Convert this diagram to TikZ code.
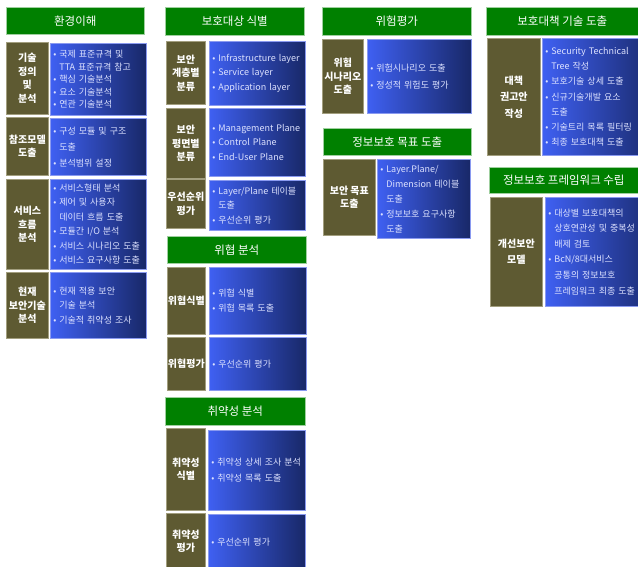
\documentclass[tikz,border=0pt]{standalone}
\usepackage{fontspec}
\setmainfont{Noto Sans CJK KR}
\usepackage{tikz}
\usepackage{xcolor}
\definecolor{hdrgreen}{HTML}{008000}
\definecolor{hdrline}{HTML}{9FCF9F}
\definecolor{lblolive}{HTML}{5E5A32}
\definecolor{lblline}{HTML}{A29E7E}
\definecolor{bluleft}{HTML}{3F60F2}
\definecolor{bluright}{HTML}{182868}
\definecolor{bluline}{HTML}{8A9AF0}
\definecolor{blutext}{HTML}{DDE2FF}
\newcommand{\bu}{\textbullet\ }
\newcommand{\ind}{\hphantom{\textbullet\ }}

\begin{document}
\begin{tikzpicture}[x=1pt,y=-1pt,
  hdr/.style={draw=hdrline,line width=0.6pt,fill=hdrgreen,anchor=north west,inner sep=0pt,text=white,font=\fontsize{11.5}{13}\selectfont},
  lbl/.style={draw=lblline,line width=0.7pt,fill=lblolive,anchor=north west,inner sep=0pt,text=white,align=center,font=\bfseries\fontsize{10}{13.5}\selectfont},
  blu/.style={draw=bluline,line width=0.6pt,left color=bluleft,right color=bluright,anchor=north west,inner xsep=3pt,inner ysep=0pt,text=blutext,align=left,font=\fontsize{9}{14.5}\selectfont}]
\useasboundingbox (0,0) rectangle (638,567);
\node[hdr,minimum width=138pt,minimum height=27pt] (hdrEnv) at (6,7) {환경이해};
\node[lbl,minimum width=42pt,minimum height=72pt] (lblDef) at (6,42) {기술\\정의\\및\\분석};
\node[blu,text width=90pt,minimum height=72pt,font=\fontsize{9}{12.5}\selectfont] (bluDef) at (50,43) {\bu 국제 표준규격 및\\\ind TTA 표준규격 참고\\\bu 핵심 기술분석\\\bu 요소 기술분석\\\bu 연관 기술분석};
\node[lbl,minimum width=42pt,minimum height=58pt] (lblRef) at (6,117) {참조모델\\도출};
\node[blu,text width=90pt,minimum height=57pt,font=\fontsize{9}{16}\selectfont] (bluRef) at (50,118) {\bu 구성 모듈 및 구조\\\ind 도출\\\bu 분석범위 설정};
\node[lbl,minimum width=42pt,minimum height=90pt] (lblFlow) at (6,179) {서비스\\흐름\\분석};
\node[blu,text width=90pt,minimum height=90pt] (bluFlow) at (50,179) {\bu 서비스형태 분석\\\bu 제어 및 사용자\\\ind 데이터 흐름 도출\\\bu 모듈간 I/O 분석\\\bu 서비스 시나리오 도출\\\bu 서비스 요구사항 도출};
\node[lbl,minimum width=42pt,minimum height=66pt] (lblCur) at (6,272) {현재\\보안기술\\분석};
\node[blu,text width=90pt,minimum height=66pt] (bluCur) at (50,272) {\bu 현재 적용 보안\\\ind 기술 분석\\\bu 기술적 취약성 조사};

\node[hdr,minimum width=139pt,minimum height=28pt] (hdrTgt) at (165,7) {보호대상 식별};
\node[lbl,minimum width=39pt,minimum height=63pt] (lblLayer) at (166,41) {보안\\계층별\\분류};
\node[blu,text width=90pt,minimum height=64pt] (bluLayer) at (209,41) {\bu Infrastructure layer\\\bu Service layer\\\bu Application layer};
\node[lbl,minimum width=39pt,minimum height=70pt] (lblPlane) at (166,108) {보안\\평면별\\분류};
\node[blu,text width=90pt,minimum height=68pt] (bluPlane) at (209,108) {\bu Management Plane\\\bu Control Plane\\\bu End-User Plane};
\node[lbl,minimum width=39pt,minimum height=49pt] (lblPrio) at (166,179) {우선순위\\평가};
\node[blu,text width=90pt,minimum height=50pt] (bluPrio) at (209,180) {\bu Layer/Plane 테이블\\\ind 도출\\\bu 우선순위 평가};

\node[hdr,minimum width=139pt,minimum height=27pt] (hdrThr) at (167,236) {위협 분석};
\node[lbl,minimum width=38pt,minimum height=67pt] (lblThrId) at (167,267) {위협식별};
\node[blu,text width=91pt,minimum height=67pt] (bluThrId) at (209,267) {\bu 위협 식별\\\bu 위협 목록 도출};
\node[lbl,minimum width=38pt,minimum height=53pt] (lblThrEv) at (167,337) {위협평가};
\node[blu,text width=91pt,minimum height=53pt] (bluThrEv) at (209,337) {\bu 우선순위 평가};

\node[hdr,minimum width=140pt,minimum height=28pt] (hdrVul) at (165,397) {취약성 분석};
\node[lbl,minimum width=39pt,minimum height=82pt] (lblVulId) at (166,428) {취약성\\식별};
\node[blu,text width=91pt,minimum height=80pt,font=\fontsize{9}{16}\selectfont] (bluVulId) at (208,430) {\bu 취약성 상세 조사 분석\\\bu 취약성 목록 도출};
\node[lbl,minimum width=39pt,minimum height=56pt] (lblVulEv) at (166,513) {취약성\\평가};
\node[blu,text width=91pt,minimum height=56pt] (bluVulEv) at (208,514) {\bu 우선순위 평가};

\node[hdr,minimum width=149pt,minimum height=28pt] (hdrRisk) at (322,7) {위험평가};
\node[lbl,minimum width=41pt,minimum height=74pt] (lblRisk) at (322,39) {위험\\시나리오\\도출};
\node[blu,text width=98pt,minimum height=74pt,font=\fontsize{9}{17}\selectfont] (bluRisk) at (367,39) {\bu 위험시나리오 도출\\\bu 정성적 위험도 평가};
\node[hdr,minimum width=148pt,minimum height=27pt] (hdrGoal) at (323,128) {정보보호 목표 도출};
\node[lbl,minimum width=52pt,minimum height=76pt] (lblGoal) at (323,159) {보안 목표\\도출};
\node[blu,text width=87pt,minimum height=79pt,font=\fontsize{9}{15}\selectfont] (bluGoal) at (377,159) {\bu Layer.Plane/\\\ind Dimension 테이블\\\ind 도출\\\bu 정보보호 요구사항\\\ind 도출};

\node[hdr,minimum width=152pt,minimum height=28pt] (hdrMeas) at (486,7) {보호대책 기술 도출};
\node[lbl,minimum width=53pt,minimum height=117pt,font=\bfseries\fontsize{10}{16.5}\selectfont] (lblMeas) at (487,38) {대책\\권고안\\작성};
\node[blu,text width=110pt,minimum height=117pt,font=\fontsize{9}{15.3}\selectfont] (bluMeas) at (542,38) {\bu Security Technical\\\ind Tree 작성\\\bu 보호기술 상세 도출\\\bu 신규기술개발 요소\\\ind 도출\\\bu 기술트리 목록 필터링\\\bu 최종 보호대책 도출};
\node[hdr,minimum width=149pt,minimum height=26pt] (hdrFrame) at (489,167) {정보보호 프레임워크 수립};
\node[lbl,minimum width=52pt,minimum height=109pt,font=\bfseries\fontsize{10}{16.5}\selectfont] (lblFrame) at (490,197) {개선보안\\모델};
\node[blu,text width=110pt,minimum height=109pt,font=\fontsize{9}{15.6}\selectfont] (bluFrame) at (545,197) {\bu 대상별 보호대책의\\\ind 상호연관성 및 중복성\\\ind 배제 검토\\\bu BcN/8대서비스\\\ind 공통의 정보보호\\\ind 프레임워크 최종 도출};
\end{tikzpicture}
\end{document}
